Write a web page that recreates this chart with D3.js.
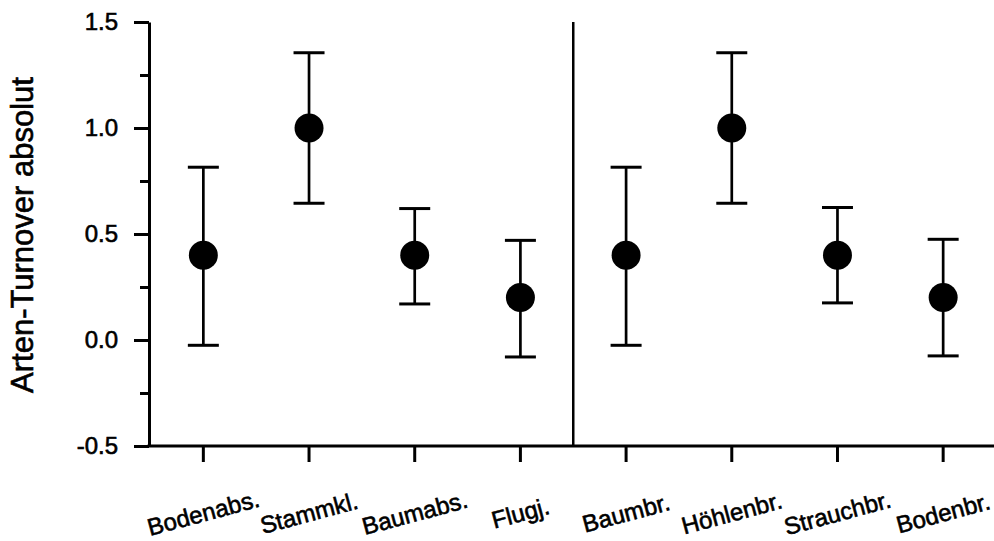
<!DOCTYPE html>
<html>
<head>
<meta charset="utf-8">
<script src="https://cdn.jsdelivr.net/npm/d3@7"></script>
<style>
  body { margin: 0; background: #fff; }
  svg { display: block; font-family: Arial, "Liberation Sans", sans-serif; }
  text { stroke: #000; stroke-width: 0.6px; }
</style>
</head>
<body>
<svg id="chart"></svg>
<script>
// values
const categories = ["Bodenabs.", "Stammkl.", "Baumabs.", "Flugj.", "Baumbr.", "Höhlenbr.", "Strauchbr.", "Bodenbr."];
const means = [0.4, 1.0, 0.4, 0.2, 0.4, 1.0, 0.4, 0.2];
const upper = [0.815, 1.355, 0.62, 0.47, 0.815, 1.355, 0.625, 0.475];
const lower = [-0.025, 0.645, 0.17, -0.08, -0.025, 0.645, 0.175, -0.075];
const majorTicks = [-0.5, 0.0, 0.5, 1.0, 1.5];
const minorTicks = [-0.25, 0.25, 0.75, 1.25];
const yLabel = "Arten-Turnover absolut";

const width = 994;
const height = 541;

const data = categories.map((c, i) => ({ cat: c, mean: means[i], hi: upper[i], lo: lower[i] }));

const svg = d3.select("#chart")
  .attr("width", width)
  .attr("height", height);

const axisX = 149;   // y-axis position
const x = d3.scaleBand()
  .domain(categories)
  .range([150.5, 996])
  .padding(0);

const y = d3.scaleLinear()
  .domain([-0.5, 1.5])
  .range([446, 22]);

const cx = d => x(d) + x.bandwidth() / 2;

// Y axis: minor ticks first, then major with labels
svg.append("g")
  .attr("transform", `translate(${axisX},0)`)
  .call(d3.axisLeft(y).tickValues(minorTicks).tickSize(9).tickSizeOuter(0).tickFormat(""))
  .call(g => g.select(".domain").remove())
  .call(g => g.selectAll("line").attr("stroke", "#000").attr("stroke-width", 3));

svg.append("g")
  .attr("transform", `translate(${axisX},0)`)
  .call(d3.axisLeft(y).tickValues(majorTicks).tickSize(15).tickSizeOuter(0).tickPadding(16)
    .tickFormat(d => d.toFixed(1)))
  .call(g => g.select(".domain").attr("stroke", "#000").attr("stroke-width", 3))
  .call(g => g.selectAll("line").attr("stroke", "#000").attr("stroke-width", 3))
  .call(g => g.selectAll("text").attr("fill", "#000").attr("font-size", 24)
    .attr("font-family", "Arial, 'Liberation Sans', sans-serif"));

// X axis line and ticks
svg.append("line")
  .attr("x1", axisX - 1.5).attr("x2", width)
  .attr("y1", y(-0.5)).attr("y2", y(-0.5))
  .attr("stroke", "#000").attr("stroke-width", 3);

svg.append("g")
  .selectAll("line")
  .data(categories)
  .join("line")
  .attr("x1", d => cx(d)).attr("x2", d => cx(d))
  .attr("y1", y(-0.5)).attr("y2", y(-0.5) + 16)
  .attr("stroke", "#000").attr("stroke-width", 3);

// rotated category labels
svg.append("g")
  .selectAll("text")
  .data(categories)
  .join("text")
  .attr("transform", d => `translate(${cx(d)},513) rotate(-15)`)
  .attr("text-anchor", "middle")
  .attr("dy", "0.35em")
  .attr("font-size", 24)
  .attr("fill", "#000")
  .text(d => d);

// divider between the two groups
svg.append("line")
  .attr("x1", x(categories[4])).attr("x2", x(categories[4]))
  .attr("y1", y(1.5)).attr("y2", y(-0.5))
  .attr("stroke", "#000").attr("stroke-width", 2.5);

// Y axis label
svg.append("text")
  .attr("transform", `translate(33,235) rotate(-90)`)
  .attr("text-anchor", "middle")
  .attr("font-size", 31)
  .attr("fill", "#000")
  .text(yLabel);

// error bars
const bars = svg.append("g").selectAll("g")
  .data(data)
  .join("g");

bars.append("line")
  .attr("x1", d => cx(d.cat)).attr("x2", d => cx(d.cat))
  .attr("y1", d => y(d.hi)).attr("y2", d => y(d.lo))
  .attr("stroke", "#000").attr("stroke-width", 2.7);

bars.selectAll(".cap")
  .data(d => [d.hi, d.lo].map(v => ({ cat: d.cat, v })))
  .join("line")
  .attr("class", "cap")
  .attr("x1", d => cx(d.cat) - 15.5).attr("x2", d => cx(d.cat) + 15.5)
  .attr("y1", d => y(d.v)).attr("y2", d => y(d.v))
  .attr("stroke", "#000").attr("stroke-width", 3);

bars.append("circle")
  .attr("cx", d => cx(d.cat))
  .attr("cy", d => y(d.mean))
  .attr("r", 14.5)
  .attr("fill", "#000");
</script>
</body>
</html>
